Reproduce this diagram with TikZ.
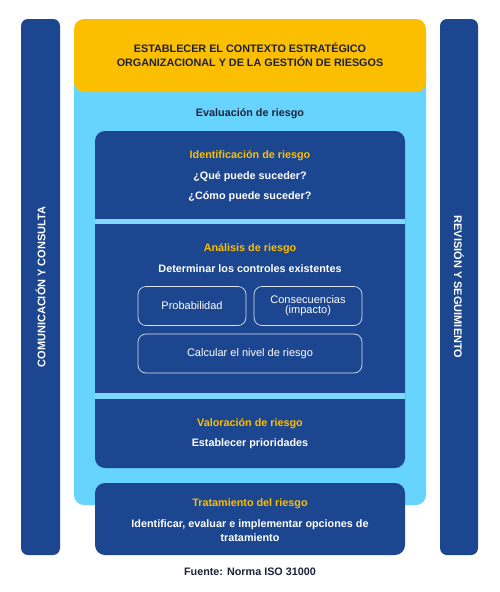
\documentclass[tikz,border=0pt]{standalone}
\usepackage{fontspec}
\setmainfont{Liberation Sans}
\usepackage{tikz}
\usetikzlibrary{positioning}
\definecolor{amarillo}{HTML}{FBBF00}
\definecolor{celeste}{HTML}{66D4FC}
\definecolor{franja}{HTML}{80D8FF}
\definecolor{azul}{HTML}{1C4690}
\definecolor{tinta}{HTML}{1D2139}
\tikzset{txt/.style={
    anchor=base,
    inner sep=0pt,
    font=\fontsize{10.8}{13}\selectfont\bfseries},
  titulo/.style={
    txt,
    text=amarillo},
  blanco/.style={
    txt,
    text=white},
  caja/.style={
    draw=white!85!azul,
    line width=0.7pt,
    rounded corners=8pt,
    minimum height=39pt,
    text=white,
    align=center,
    font=\fontsize{11}{10}\selectfont}}

\begin{document}
\begin{tikzpicture}[x=1pt, y=-1pt]

\useasboundingbox[fill=white] (0,0) rectangle (500,592);

% barras laterales
\fill[azul, rounded corners=7pt] (21,19) rectangle (60,555);
\fill[azul, rounded corners=7pt] (440,19) rectangle (478,555);

% fondo de la evaluacion
\fill[celeste, rounded corners=10pt] (74,60) rectangle (426,505);
\fill[amarillo, rounded corners=10pt] (74,19) rectangle (426,92);

% bloque azul con franjas
\fill[azul, rounded corners=10pt] (95,131) rectangle (405,468);
\fill[franja] (95,219) rectangle (405,224);
\fill[franja] (95,393) rectangle (405,399);
\fill[azul, rounded corners=10pt] (95,483) rectangle (405,555);

\node[txt,
  text=tinta] (contexto) at (250,52.5) {ESTABLECER EL CONTEXTO ESTRATÉGICO};
\node[txt,
  text=tinta] (contexto2) at (250,66.5) {ORGANIZACIONAL Y DE LA GESTIÓN DE RIESGOS};

\node[txt,
  text=tinta] (evaluacion) at (250,116) {Evaluación de riesgo};

\node[titulo] (identificacion) at (250,158) {Identificación de riesgo};
\node[blanco] (que) at (250,179) {¿Qué puede suceder?};
\node[blanco] (como) at (250,199) {¿Cómo puede suceder?};

\node[titulo] (analisis) at (250,251) {Análisis de riesgo};
\node[blanco] (determinar) at (250,272) {Determinar los controles existentes};

\node[caja,
  minimum width=108pt] (prob) at (192,306) {Probabilidad};
\node[caja,
  minimum width=108pt] (conse) at (308,306) {Consecuencias\\(impacto)};
\node[caja,
  minimum width=224pt] (calcular) at (250,353.5) {Calcular el nivel de riesgo};

\node[titulo] (valoracion) at (250,426) {Valoración de riesgo};
\node[blanco] (prioridades) at (250,446.5) {Establecer prioridades};

\node[titulo] (tratamiento) at (250,506.5) {Tratamiento del riesgo};
\node[blanco] (opciones) at (250,527.5) {Identificar, evaluar e implementar opciones de};
\node[blanco] (opciones2) at (250,541.5) {tratamiento};

\node[txt,
  text=tinta] (fuente) at (250,575) {Fuente: Norma ISO 31000};

\node[blanco,
  anchor=center,
  rotate=90,
  font=\fontsize{11}{13}\selectfont\bfseries] (comunicacion) at (40.5,287) {COMUNICACIÓN Y CONSULTA};
\node[blanco,
  anchor=center,
  rotate=-90,
  font=\fontsize{11}{13}\selectfont\bfseries] (revision) at (459,287) {REVISIÓN Y SEGUIMIENTO};

\end{tikzpicture}
\end{document}
